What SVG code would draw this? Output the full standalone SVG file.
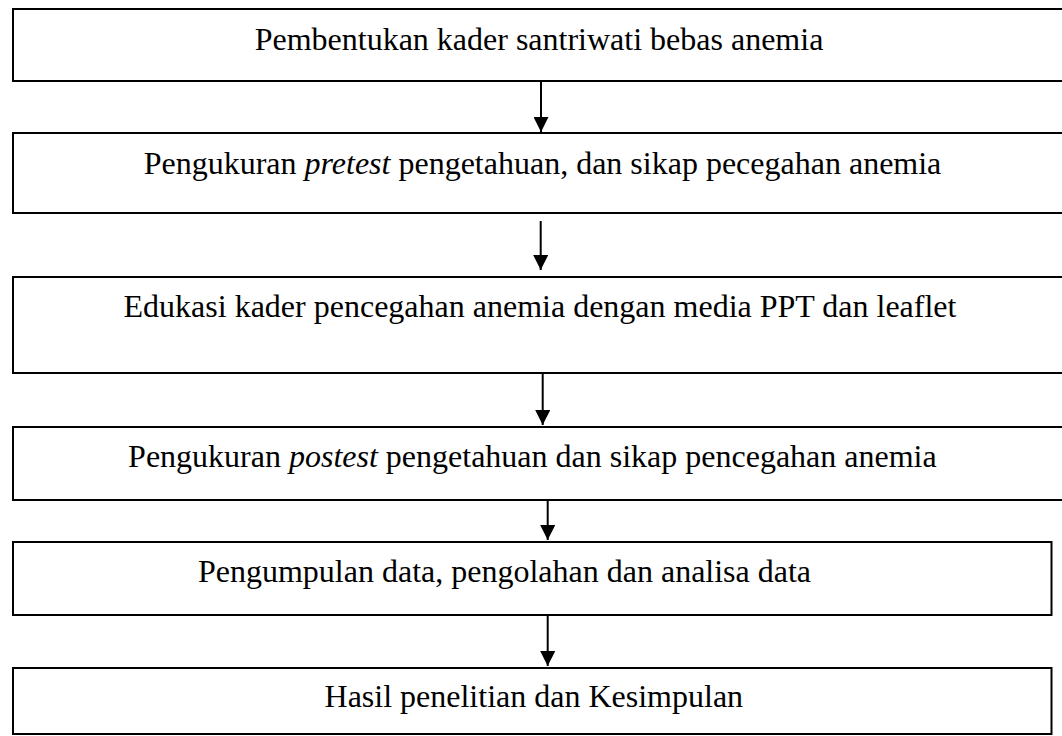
<svg xmlns="http://www.w3.org/2000/svg" width="1062" height="736" viewBox="0 0 1062 736">
<defs>
<style>
.box{fill:#fff;stroke:#000;stroke-width:2}
.t{font-family:"Liberation Serif","Times New Roman",serif;font-size:32px;fill:#000;text-anchor:middle}
.i{font-style:italic}
.c{stroke:#000;stroke-width:2;fill:none}
</style>
<marker id="ah" markerUnits="userSpaceOnUse" markerWidth="15" markerHeight="15" refX="15" refY="7.5" orient="auto">
<path d="M0,0 L15,7.5 L0,15 z" fill="#000"/>
</marker>
</defs>
<rect width="1062" height="736" fill="#fff"/>
<g id="n1"><rect class="box" x="13" y="9" width="1060" height="72"/><text class="t" x="539" y="50">Pembentukan kader santriwati bebas anemia</text></g>
<g id="n2"><rect class="box" x="13" y="133" width="1060" height="80"/><text class="t" x="542.5" y="174">Pengukuran <tspan class="i">pretest</tspan> pengetahuan, dan sikap pecegahan anemia</text></g>
<g id="n3"><rect class="box" x="13" y="277" width="1060" height="96"/><text class="t" x="540" y="317">Edukasi kader pencegahan anemia dengan media PPT dan leaflet</text></g>
<g id="n4"><rect class="box" x="13" y="427" width="1060" height="73"/><text class="t" x="532.4" y="467">Pengukuran <tspan class="i">postest</tspan> pengetahuan dan sikap pencegahan anemia</text></g>
<g id="n5"><rect class="box" x="13" y="542" width="1038.5" height="73"/><text class="t" x="504.5" y="582">Pengumpulan data, pengolahan dan analisa data</text></g>
<g id="n6"><rect class="box" x="13" y="668" width="1038.5" height="66"/><text class="t" x="533.8" y="707">Hasil penelitian dan Kesimpulan</text></g>
<g id="connectors">
<line class="c" x1="541" y1="82" x2="541" y2="132" marker-end="url(#ah)"/>
<line class="c" x1="540.7" y1="221" x2="540.7" y2="270" marker-end="url(#ah)"/>
<line class="c" x1="542.7" y1="374" x2="542.7" y2="425" marker-end="url(#ah)"/>
<line class="c" x1="547.7" y1="501" x2="547.7" y2="540" marker-end="url(#ah)"/>
<line class="c" x1="547.7" y1="616" x2="547.7" y2="666" marker-end="url(#ah)"/>
</g>
</svg>
